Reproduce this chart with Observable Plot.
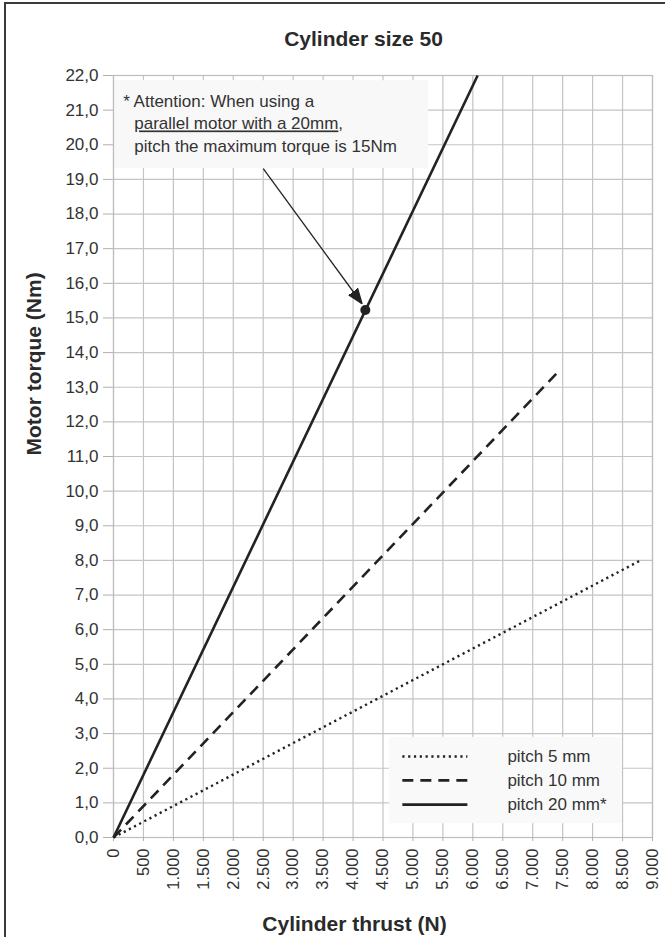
<!DOCTYPE html>
<html><head><meta charset="utf-8">
<script src="https://cdn.jsdelivr.net/npm/d3@7"></script>
<script src="https://cdn.jsdelivr.net/npm/@observablehq/plot@0.6"></script>
<style>
html,body{margin:0;padding:0;background:#fff;}
#wrap{position:relative;width:665px;height:937px;overflow:hidden;}
#border{position:absolute;left:4px;top:2px;right:-10px;bottom:-10px;border:2px solid #3a3a3a;pointer-events:none;}
</style></head><body><div id="wrap"><div id="chart"></div><div id="border"></div></div>
<script>
// ---- data ----
const pitches = ["pitch 5 mm", "pitch 10 mm", "pitch 20 mm*"];
const thrustStart = [0, 0, 0];
const torqueStart = [0, 0, 0];
const thrustEnd = [8800, 7400, 6080];
const torqueEnd = [8.0, 13.4, 22.0];
const xTicks = [0,500,1000,1500,2000,2500,3000,3500,4000,4500,5000,5500,6000,6500,7000,7500,8000,8500,9000];
const yTicks = [0,1,2,3,4,5,6,7,8,9,10,11,12,13,14,15,16,17,18,19,20,21,22];
const limitThrust = [4205];
const limitTorque = [15.23];
const noteLines = ["* Attention: When using a", "parallel motor with a 20mm,", "pitch the maximum torque is 15Nm"];
const titleText = "Cylinder size 50";
const xLabel = "Cylinder thrust (N)";
const yLabel = "Motor torque (Nm)";

// ---- layout / style (annotation placement in data space) ----
const noteBox = {x1: 0, x2: 5263, y1: 19.31, y2: 21.85};
const noteX = [162, 347, 347];
const noteY = [21.25, 20.6, 19.94];
const arrowLink = {x1: 2501, y1: 19.31, x2: 4150, y2: 15.41};
const legendBox = {x1: 4606, x2: 8499, y1: 0.40, y2: 2.89};
const legendY = [2.34, 1.65, 0.95];
const legendLineX = [4823, 5909];
const legendTextX = 6577;
const dashes = ["2.2,3.6", "11,7", null];
const ink = "#222";

const de = d3.formatLocale({decimal: ",", thousands: ".", grouping: [3], currency: ["", ""]});
const xFmt = de.format(",");
const yFmt = de.format(".1f");

const series = pitches.flatMap((p, i) => [
  {pitch: p, thrust: thrustStart[i], torque: torqueStart[i]},
  {pitch: p, thrust: thrustEnd[i], torque: torqueEnd[i]}
]);
const legendRows = pitches.map((p, i) => ({pitch: p, y: legendY[i], dash: dashes[i]}));
const notes = noteLines.map((t, i) => ({text: t, x: noteX[i], y: noteY[i]}));

const SVGNS = "http://www.w3.org/2000/svg";
function filledArrow(color, context) {
  const doc = (context && context.document) || document;
  const m = doc.createElementNS(SVGNS, "marker");
  m.setAttribute("viewBox", "-15 -7 16 14");
  m.setAttribute("markerWidth", 16);
  m.setAttribute("markerHeight", 14);
  m.setAttribute("markerUnits", "userSpaceOnUse");
  m.setAttribute("orient", "auto");
  const p = doc.createElementNS(SVGNS, "path");
  p.setAttribute("d", "M-15,-5.5L0,0L-15,5.5Z");
  p.setAttribute("fill", ink);
  m.appendChild(p);
  m.node = () => m;
  m.attr = function (k, v) { this.setAttribute(k, v); return this; };
  return m;
}

function build(useMarker) {
  const lineMarks = pitches.map((p, i) =>
    Plot.line(series.filter(d => d.pitch === p), {
      x: "thrust", y: "torque", stroke: ink,
      strokeWidth: i === 0 ? 2.4 : 2.6,
      strokeDasharray: dashes[i] ?? undefined,
      strokeLinecap: "butt"
    })
  );
  const legendMarks = legendRows.map((r) =>
    Plot.link([r], {
      x1: () => legendLineX[0], x2: () => legendLineX[1], y1: "y", y2: "y",
      stroke: ink, strokeWidth: 2.6, strokeDasharray: r.dash ?? undefined
    })
  );
  const arrowMark = useMarker
    ? Plot.link([arrowLink], {x1: "x1", y1: "y1", x2: "x2", y2: "y2", stroke: ink, strokeWidth: 1.3, markerEnd: filledArrow})
    : Plot.arrow([arrowLink], {x1: "x1", y1: "y1", x2: "x2", y2: "y2", stroke: ink, strokeWidth: 1.3, headLength: 12});
  return Plot.plot({
    width: 665, height: 937,
    marginLeft: 113, marginRight: 13, marginTop: 75, marginBottom: 100,
    style: {fontFamily: "'Liberation Sans', Arial, sans-serif", fontSize: "17px", color: "#333", background: "transparent", overflow: "visible"},
    x: {domain: [0, 9000]},
    y: {domain: [0, 22]},
    marks: [
      Plot.gridX(xTicks, {stroke: "#c4c4c4", strokeOpacity: 1, strokeWidth: 1.2}),
      Plot.gridY(yTicks, {stroke: "#c4c4c4", strokeOpacity: 1, strokeWidth: 1.2}),
      Plot.rect([noteBox], {x1: "x1", x2: "x2", y1: "y1", y2: "y2", fill: "#f8f8f8"}),
      Plot.rect([legendBox], {x1: "x1", x2: "x2", y1: "y1", y2: "y2", fill: "#f9f9f9"}),
      Plot.frame({stroke: "#bdbdbd", strokeWidth: 1.2}),
      Plot.axisY(yTicks, {anchor: "left", tickSize: 10, tickPadding: 5, stroke: "#b0b0b0", fill: "#333", fontSize: 17, tickFormat: yFmt, label: null}),
      Plot.axisX(xTicks, {anchor: "bottom", tickRotate: -90, tickSize: 4, tickPadding: 7, stroke: "#b0b0b0", fill: "#333", fontSize: 16.5, tickFormat: xFmt, label: null}),
      ...lineMarks,
      arrowMark,
      Plot.dot(limitThrust.map((t, i) => ({t, q: limitTorque[i]})), {x: "t", y: "q", r: 5, fill: ink, stroke: null}),
      Plot.text(notes, {x: "x", y: "y", text: "text", textAnchor: "start", lineAnchor: "middle", fontSize: 17, fill: "#333"}),
      ...legendMarks,
      Plot.text(legendRows, {x: () => legendTextX, y: "y", text: "pitch", textAnchor: "start", lineAnchor: "middle", fontSize: 17, fill: "#333"}),
      Plot.text([titleText], {frameAnchor: "top", dx: -19.5, dy: -30, lineAnchor: "bottom", fontWeight: "bold", fontSize: 21, fill: "#2a2a2a"}),
      Plot.text([xLabel], {frameAnchor: "bottom", dx: -28.5, dy: 93, lineAnchor: "bottom", fontWeight: "bold", fontSize: 21, fill: "#2a2a2a"}),
      Plot.text([yLabel], {frameAnchor: "left", rotate: -90, dx: -73, dy: -1, lineAnchor: "bottom", fontWeight: "bold", fontSize: 21, fill: "#2a2a2a"})
    ]
  });
}

let plot;
try { plot = build(true); } catch (e) { console.warn(e); plot = build(false); }
document.getElementById("chart").appendChild(plot);

// underline the motor phrase (but not the trailing comma)
d3.select(plot).selectAll("text").each(function () {
  if (this.textContent === noteLines[1]) {
    const full = noteLines[1];
    const main = full.replace(/,$/, "");
    this.textContent = "";
    d3.select(this).append("tspan").attr("text-decoration", "underline").text(main);
    d3.select(this).append("tspan").text(full.slice(main.length));
  }
});
</script>
</body></html>
